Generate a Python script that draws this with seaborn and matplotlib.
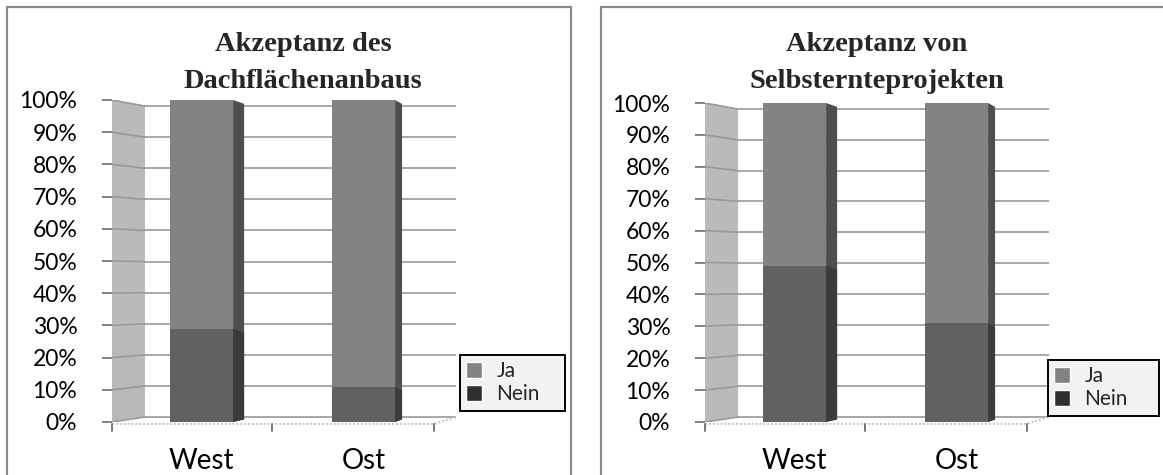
import numpy as np
import pandas as pd
import seaborn as sns
import matplotlib.pyplot as plt
from matplotlib.patches import Rectangle, Polygon, Patch

# data
regions = ["West", "Ost"]
series = ["Ja", "Nein"]
titles = ["Akzeptanz des\nDachflächenanbaus", "Akzeptanz von\nSelbsternteprojekten"]
ja_left = [71, 89]
nein_left = [29, 11]
ja_right = [51, 69]
nein_right = [49, 31]
y_ticks = list(range(0, 101, 10))

W, H = 1163, 475
JA = "#838383"
JA_SIDE = "#4e4e4e"
NEIN = "#616161"
NEIN_SIDE = "#3b3b3b"
LEG_COLORS = ["#828282", "#2f2f2f"]
WALL = "#bababa"
GRID = "#a8a8a8"

sns.set_theme(style="white")
plt.rcParams['font.family'] = ['Lato', 'DejaVu Sans']

fig = plt.figure(figsize=(W / 100, H / 100), dpi=100)


def px_rect(x0, y0, x1, y1):
    # pixel box, origin top left -> figure fraction
    return [x0 / W, 1 - y1 / H, (x1 - x0) / W, (y1 - y0) / H]


def back_y(v):
    # perspective of the back wall
    return 1.55 + v * 0.9655


def side_faces(ax, patches, color):
    for p in patches:
        x, y0 = p.get_x(), p.get_y()
        w, h = p.get_width(), p.get_height()
        xr = x + w
        xc = x + w / 2
        sw = 0.068 - 0.025 * xc
        y1 = y0 + h
        poly = Polygon([(xr, y0), (xr + sw, y0 + 0.8), (xr + sw, y1 - 1.2), (xr, y1)],
                       closed=True, facecolor=color, edgecolor="none", zorder=4)
        ax.add_patch(poly)


panels = [
    dict(dx=0, top=100, frame=(7, 571), title_x=303, legend=(460, 355, 105, 57),
         ja=ja_left, nein=nein_left, title=titles[0]),
    dict(dx=593, top=103, frame=(601, 1175), title_x=877, legend=(1048, 360, 111, 56),
         ja=ja_right, nein=nein_right, title=titles[1]),
]

for pn in panels:
    dx = pn["dx"]
    # frame round the chart
    f0, f1 = pn["frame"]
    fig.add_artist(Rectangle((f0 / W, -0.1), (f1 - f0) / W, 1 - 7 / H + 0.1,
                             transform=fig.transFigure, fill=False,
                             edgecolor="#8a8a8a", linewidth=1.6))

    ax = fig.add_axes(px_rect(112 + dx, pn["top"], 456 + dx, 422))
    x_left = -(201.5 - 112) / 162
    x_right = 1 + (456 - 363.5) / 162
    x_wall = -(201.5 - 145) / 162

    # side wall and grid
    ax.add_patch(Polygon([(x_left, 100), (x_wall, back_y(100)), (x_wall, back_y(0)), (x_left, 0)],
                         closed=True, facecolor=WALL, edgecolor="none", zorder=0))
    for v in y_ticks:
        ax.plot([x_wall, x_right], [back_y(v), back_y(v)], color=GRID, lw=1.4, zorder=1)
        ax.plot([x_left, x_wall], [v, back_y(v)], color="#999999", lw=1.2, zorder=1)

    # floor
    ax.plot([x_left, 1.435, x_right], [-0.6, -0.6, back_y(0)], color="#c4c4c4", lw=1.4,
            ls=(0, (1, 1)), clip_on=False, zorder=1)
    for t in [x_left, 0.435, 1.435]:
        ax.plot([t, t], [-0.6, -2.8], color="#777777", lw=1.4, clip_on=False, zorder=1)

    df = pd.DataFrame({"region": regions, "total": np.add(pn["ja"], pn["nein"]),
                       "nein": pn["nein"]})
    sns.barplot(data=df, x="region", y="total", color=JA, saturation=1, width=0.39,
                ax=ax, zorder=3, edgecolor="none", linewidth=0)
    total_bars = list(ax.patches)[1:]
    side_faces(ax, total_bars, JA_SIDE)
    n_before = len(ax.patches)
    sns.barplot(data=df, x="region", y="nein", color=NEIN, saturation=1, width=0.39,
                ax=ax, zorder=5, edgecolor="none", linewidth=0)
    nein_bars = list(ax.patches)[n_before:]
    side_faces(ax, nein_bars, NEIN_SIDE)
    for p in nein_bars:
        p.set_zorder(5)

    ax.set_xlim(x_left, x_right)
    ax.set_ylim(0, 100)
    ax.set_yticks(y_ticks)
    ax.set_yticklabels([f"{v}%" for v in y_ticks], fontsize=16.5, color="black")
    ax.tick_params(axis="y", direction="out", length=7, width=1.3, color="#777777", pad=18,
                   left=True)
    ax.tick_params(axis="x", length=0, pad=19, labelsize=20, labelcolor="black")
    ax.set_xlabel("")
    ax.set_ylabel("")
    ax.set_facecolor("none")
    for s in ax.spines.values():
        s.set_visible(False)

    fig.text(pn["title_x"] / W, 1 - 32 / H, pn["title"], ha="center", va="top",
             fontfamily="Liberation Serif", fontweight="bold", fontsize=20.5, linespacing=1.65)

    lx, ly, lw, lh = pn["legend"]
    handles = [Patch(facecolor=c, label=s) for c, s in zip(LEG_COLORS, series)]
    leg = fig.legend(handles=handles, loc="upper left", mode="expand",
                     bbox_to_anchor=(lx / W, 1 - (ly + lh) / H, lw / W, lh / H),
                     bbox_transform=fig.transFigure, fancybox=False, frameon=True,
                     edgecolor="black", facecolor="#f2f2f2", framealpha=1, fontsize=15,
                     handlelength=0.75, handleheight=0.75, handletextpad=0.7, borderpad=0.3,
                     labelspacing=0.15, borderaxespad=0)
    leg.get_frame().set_linewidth(1.4)

fig.savefig("out.png", dpi=100, facecolor="white")
